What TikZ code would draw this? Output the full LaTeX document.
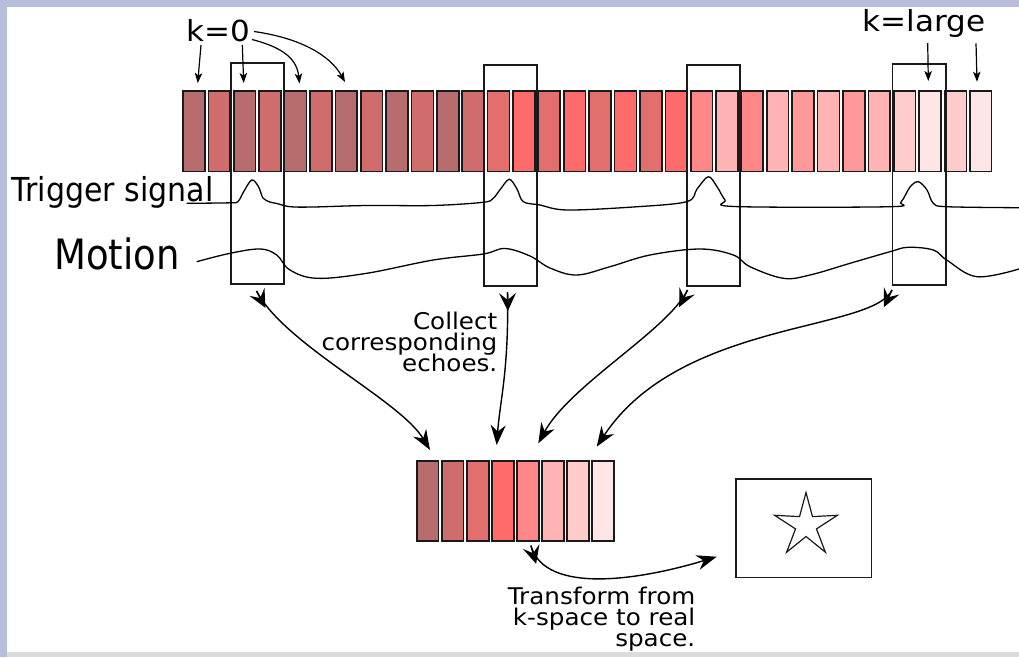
\documentclass[tikz,border=0pt]{standalone}
\usepackage{fontspec}
\setmainfont{DejaVu Sans}
\usepackage{graphicx}
\usetikzlibrary{arrows.meta,shapes.geometric,calc}
\definecolor{frameblue}{HTML}{B7BDDB}
\definecolor{framegray}{HTML}{DCDCDC}
\definecolor{ink}{HTML}{1A1A1A}
\definecolor{cA}{HTML}{B76D6D}
\definecolor{cB}{HTML}{CF6C6C}
\definecolor{cC}{HTML}{E36E6E}
\definecolor{cD}{HTML}{FF6B6B}
\definecolor{cE}{HTML}{FF8787}
\definecolor{cEE}{HTML}{FF9999}
\definecolor{cF}{HTML}{FFB3B3}
\definecolor{cG}{HTML}{FFCCCC}
\definecolor{cH}{HTML}{FFE5E5}
\newcommand{\wide}[1]{\scalebox{1.07}[1]{#1}}
\newcommand{\smallfont}{\fontsize{23}{21}\selectfont\lineskiplimit -100pt\relax}
\tikzset{
  bar/.style={rectangle, draw=ink, line width=1.6pt, minimum width=21.8pt, minimum height=80.4pt, inner sep=0pt},
  win/.style={rectangle, draw=ink, line width=1.6pt, minimum width=53.4pt, minimum height=221.4pt, inner sep=0pt},
  sig/.style={draw=black, line width=1.3pt},
  karrow/.style={draw=black, line width=1.2pt, -{Stealth[length=10pt,width=7.5pt,inset=2.5pt]}},
  barrow/.style={draw=black, line width=1.4pt, -{Stealth[length=20pt,width=15pt,inset=6.5pt]}},
  headonly/.style={draw=black, line width=1.4pt, -{Stealth[length=18pt,width=17pt,inset=7pt]}},
  lbl/.style={inner sep=0pt, text=black},
  small/.style={font=\smallfont}
}
\begin{document}
\begin{tikzpicture}[x=1pt,y=-1pt]
\useasboundingbox (0,0) rectangle (1019,657);
\fill[white] (0,0) rectangle (1019,657);
\fill[frameblue] (0,0) rectangle (1019,6.7);
\fill[frameblue] (0,0) rectangle (6.7,657);
\fill[framegray] (6.7,652) rectangle (1019,657);

% top row of echoes
\foreach \c [count=\i] in {cA,cB,cA,cB,cA,cB,cA,cB,cA,cB,cA,cB,cC,cD,cC,cD,cC,cD,cC,cD,cE,cF,cE,cF,cEE,cF,cEE,cF,cG,cH,cG,cH}
  \node[bar, fill=\c] (b\i) at ({194+(\i-1)*25.38},131.2) {};

% collected echoes
\foreach \c [count=\i] in {cA,cB,cC,cD,cE,cF,cG,cH}
  \node[bar, fill=\c, minimum height=80pt] (c\i) at ({427.7+(\i-1)*25.05},500.8) {};

% windows
\node[win] (w1) at (257.5,173.5) {};
\node[win] (w2) at (510.5,175.5) {};
\node[win] (w3) at (713.5,175.5) {};
\node[win] (w4) at (919,174.5) {};

% image box with star
\node[rectangle, draw=ink, line width=1.5pt, minimum width=135.5pt, minimum height=98.5pt, inner sep=0pt] (img) at (803.5,528) {};
\node[star, star points=5, star point ratio=3, draw=ink, line width=1.2pt, minimum size=66pt, inner sep=0pt] (st) at (806,525.5) {};

% labels
\node[lbl, anchor=base west, font=\fontsize{29}{34}\selectfont] (k0) at (186,41.7) {\wide{k=0}};
\node[lbl, anchor=base west, font=\fontsize{29}{34}\selectfont] (kl) at (862.5,31) {\wide{k=large}};
\node[lbl, anchor=base west] (trig) at (11.5,201.5) {\scalebox{1}[1.1]{\fontsize{30}{36}\selectfont Trigger signal}};
\node[lbl, anchor=base west] (mot) at (54,269) {\scalebox{1}[1.13]{\fontsize{37}{44}\selectfont Motion}};
\node[lbl, small, anchor=base east, align=right] (collect) at (497.5,371.7) {\wide{Collect}\\\wide{corresponding}\\\wide{echoes.}};
\node[lbl, small, anchor=base east, align=right] (transf) at (695.5,646.7) {\wide{Transform from}\\\wide{k-space to real}\\\wide{space.}};

% signals
\draw[sig] plot[smooth, tension=0.55] coordinates {(186.7,203.3) (230,202.8) (238,201.5) (243.5,192) (251.7,180) (258.5,186.7) (263,198) (270,202) (277,203.5) (290,206.7) (313,207) (366.7,205.5) (433,205.5) (483,202.3) (493,198.5) (500.5,189) (509.3,179.3) (517,189) (523.3,201.7) (540,205) (566.7,210) (633,207) (686.7,201.7) (697,189) (708.3,176.7) (717,186.7) (725,200) (734,206.5) (890,206.7) (901,202) (910,187) (918.3,181.7) (927,190) (933.3,203.3) (946.7,206.7) (1019,207.7)};
\draw[sig] plot[smooth, tension=0.6] coordinates {(196.7,261.7) (230,253.3) (260,249) (276.7,255) (290,270) (316.7,278.3) (366.7,273.3) (433.3,260) (483.3,254) (505,248.5) (530,256) (550,268) (576.7,275) (610,266.7) (650,255) (700,249) (733.3,255) (750,266.7) (783.3,278.3) (810,275) (850,263.3) (890,251.7) (908,247.3) (933.3,250) (946.7,260) (976.7,276.7) (1019,269)};

% k arrows
\coordinate (a1s) at (201,45);   \coordinate (a1e) at (197.7,83);
\coordinate (a2s) at (242.3,45); \coordinate (a2e) at (243.7,83);
\coordinate (a3s) at (252,39.5); \coordinate (a3e) at (299.5,83.5);
\coordinate (a4s) at (254,31.5); \coordinate (a4e) at (345,82);
\coordinate (a5s) at (927.7,43); \coordinate (a5e) at (928.3,81);
\coordinate (a6s) at (976,43.3); \coordinate (a6e) at (977,81.7);
\draw[karrow] (a1s) -- (a1e);
\draw[karrow] (a2s) -- (a2e);
\draw[karrow] (a3s) .. controls (285,48) and (297,60) .. (a3e);
\draw[karrow] (a4s) .. controls (300,38) and (330,55) .. (a4e);
\draw[karrow] (a5s) -- (a5e);
\draw[karrow] (a6s) -- (a6e);

% collect arrows
\coordinate (s1) at ($(w1.south)+(-1,6)$);
\coordinate (s2) at ($(w2.south)+(-3,5)$);
\coordinate (s3) at ($(w3.south)+(-26,3)$);
\coordinate (s4) at ($(w4.south)+(-27,4)$);
\coordinate (e1) at (430,450);
\coordinate (e2) at (496.7,445);
\coordinate (e3) at (538.3,443.3);
\coordinate (e4) at (596.7,446.7);
\draw[barrow] (s1) .. controls (285,345) and (400,400) .. (e1);
\draw[barrow] (s2) .. controls (509,370) and (500,400) .. (e2);
\draw[barrow] (s3) .. controls (668,330) and (570,385) .. (e3);
\draw[barrow] (s4) .. controls (872,332) and (680,320) .. (e4);
\draw[headonly] (s1) -- ($(s1)!19pt!(285,345)$);
\draw[headonly] (s2) -- ($(s2)!19pt!(509,370)$);
\draw[headonly] (s3) -- ($(s3)!19pt!(668,330)$);
\draw[headonly] (s4) -- ($(s4)!19pt!(872,332)$);

% transform arrow
\coordinate (ts) at ($(c5.south)+(3,4)$);
\coordinate (te) at (716.7,556.7);
\draw[barrow] (ts) .. controls (545,595) and (640,580) .. (te);
\draw[headonly] (ts) -- ($(ts)!19pt!(545,595)$);
\end{tikzpicture}
\end{document}
